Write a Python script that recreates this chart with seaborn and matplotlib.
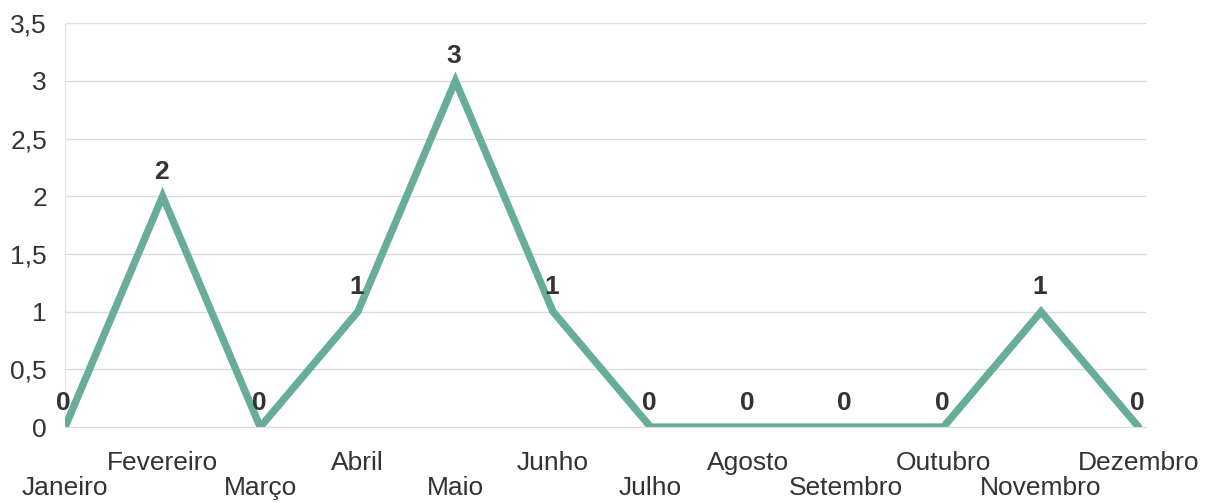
import pandas as pd
import matplotlib.pyplot as plt
import seaborn as sns

meses = ['Janeiro', 'Fevereiro', 'Março', 'Abril', 'Maio', 'Junho',
         'Julho', 'Agosto', 'Setembro', 'Outubro', 'Novembro', 'Dezembro']
valores = [0, 2, 0, 1, 3, 1, 0, 0, 0, 0, 1, 0]
y_ticks = [0, 0.5, 1, 1.5, 2, 2.5, 3, 3.5]
y_labels = ['0', '0,5', '1', '1,5', '2', '2,5', '3', '3,5']

df = pd.DataFrame({'pos': range(len(meses)), 'mes': meses, 'valor': valores})

sns.set_style('white')
plt.rcParams['font.family'] = ['Liberation Sans', 'DejaVu Sans']

fig = plt.figure(figsize=(12.13, 5.03), dpi=100)
ax = fig.add_axes([0.0536, 0.151, 0.8915, 0.803])

sns.lineplot(data=df, x='pos', y='valor', ax=ax, color='#68ac9a', linewidth=5.3,
             solid_joinstyle='miter')

for x, v in zip(df['pos'], df['valor']):
    ax.annotate(str(v), (x, v), xytext=(-1, 9), textcoords='offset points',
                ha='center', va='bottom', fontsize=19, fontweight='bold', color='#333333')

ax.set_xlim(0, 11.08)
ax.set_ylim(0, 3.5)
ax.set_yticks(y_ticks)
ax.set_yticklabels(y_labels)
ax.set_xticks(df['pos'])
ax.set_xticklabels(meses)
ax.set_xlabel('')
ax.set_ylabel('')

ax.grid(axis='y', color='#d9dedc', linewidth=1)
ax.grid(axis='x', visible=False)
for s in ['top', 'right', 'left']:
    ax.spines[s].set_visible(False)
ax.spines['bottom'].set_color('#d9dedc')
ax.axvline(0, color='#e3e6e5', linewidth=1, zorder=0)

ax.tick_params(axis='y', length=0, pad=13, labelsize=19, labelcolor='#333333')
ax.tick_params(axis='x', length=5, color='#d0d4d2', labelsize=19, labelcolor='#333333', direction='out')
for i, t in enumerate(ax.xaxis.get_major_ticks()):
    t.set_pad(30 if i % 2 == 0 else 12)

fig.savefig('out.png', dpi=100, facecolor='white')
